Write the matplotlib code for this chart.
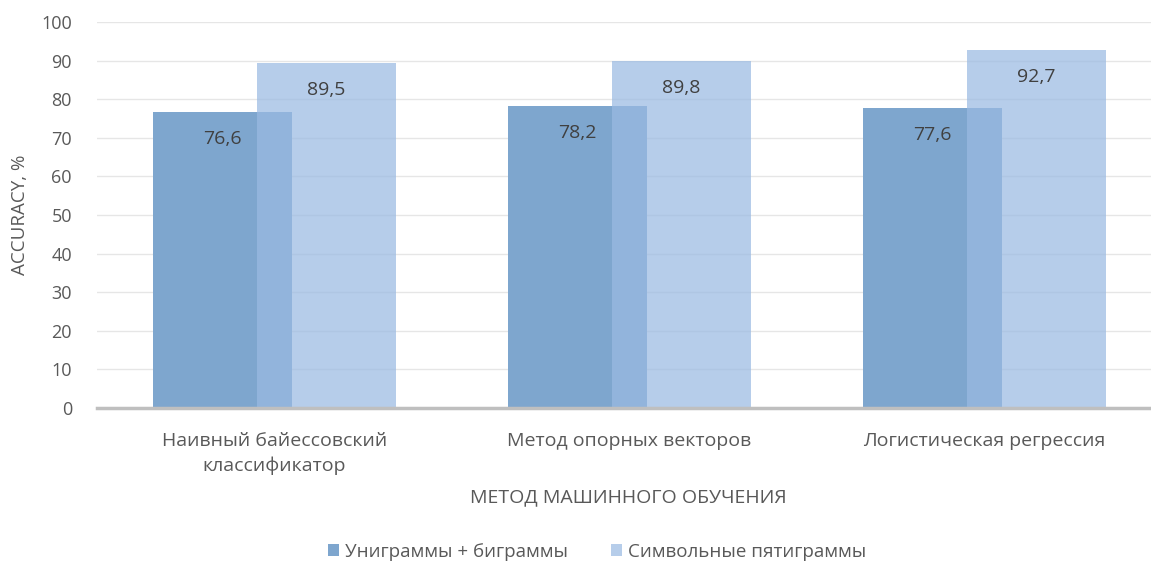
import matplotlib
matplotlib.use("Agg")
import matplotlib.pyplot as plt
import numpy as np

# data
categories = ["Наивный байессовский\nклассификатор",
              "Метод опорных векторов",
              "Логистическая регрессия"]
uni_bi = [76.6, 78.2, 77.6]
char5 = [89.5, 89.8, 92.7]
series_names = ["Униграммы + биграммы", "Символьные пятиграммы"]

plt.rcParams['font.family'] = ['Open Sans', 'DejaVu Sans']
text_color = '#595959'

W, H = 1151, 563
fig = plt.figure(figsize=(W / 100, H / 100), dpi=100)
# axes placed in pixel coordinates (right edge runs past the figure, as in the source)
left, right, bottom, top = 97, 1162, 408, 22
ax = fig.add_axes([left / W, (H - bottom) / H, (right - left) / W, (bottom - top) / H])

x = np.arange(len(categories))
width = 0.39
off = 0.147

b1 = ax.bar(x - off, uni_bi, width, color='#7ea6ce', zorder=2, label=series_names[0])
b2 = ax.bar(x + off, char5, width, color='#9abae2', alpha=0.72, zorder=3,
            label=series_names[1])

for bars, vals in ((b1, uni_bi), (b2, char5)):
    for rect, v in zip(bars, vals):
        ax.annotate(f"{v:.1f}".replace('.', ','),
                    (rect.get_x() + rect.get_width() / 2, v),
                    xytext=(0, -27), textcoords='offset pixels',
                    ha='center', va='center', fontsize=14, color='#404040', zorder=5)

ax.set_xlim(-0.5, 2.5)
ax.set_ylim(0, 100)
ax.set_yticks(range(0, 101, 10))
ax.set_xticks(x)
ax.set_xticklabels(categories, fontsize=14, color=text_color, linespacing=1.5)
ax.tick_params(axis='y', labelsize=13, labelcolor=text_color, length=0, pad=18)
ax.tick_params(axis='x', length=0, pad=17)

ax.grid(axis='y', color='#e6e6e6', linewidth=1, zorder=0)
for s in ('top', 'right', 'left'):
    ax.spines[s].set_visible(False)
ax.spines['bottom'].set_color('#bfbfbf')
ax.spines['bottom'].set_linewidth(2.5)
ax.spines['bottom'].set_zorder(4)

fig.text(20 / W, 1 - 215 / H, "ACCURACY, %", rotation=90, ha='center', va='center',
         fontsize=13.5, color=text_color)
fig.text(628 / W, 1 - 497 / H, "МЕТОД МАШИННОГО ОБУЧЕНИЯ", ha='center', va='center',
         fontsize=14, color=text_color)

leg = fig.legend(handles=[b1, b2], loc='center', bbox_to_anchor=(597 / W, 1 - 552 / H),
                 ncol=2, frameon=False, fontsize=13.5, handlelength=0.6, handleheight=0.6,
                 handletextpad=0.3, columnspacing=2.3)
for t in leg.get_texts():
    t.set_color(text_color)

fig.savefig("out.png", dpi=100)
